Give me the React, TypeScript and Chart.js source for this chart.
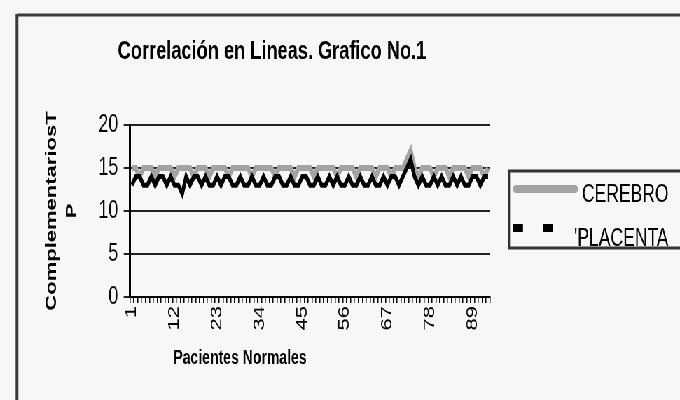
import React, { useEffect, useRef } from "react";
import { Chart, registerables } from "chart.js";

Chart.register(...registerables);

// ---- data ----
const chartTitle = "Correlación en Lineas. Grafico No.1";
const xTitle = "Pacientes Normales";
const yTitle = ["ComplementariosT", "P"];
const seriesNames = ["CEREBRO", "'PLACENTA"];
const categories = Array.from({ length: 93 }, (_, i) => String(i + 1));
const labelEvery = 11;
const yTicks = { min: 0, max: 20, step: 5 };

const cerebro = [
  15, 15, 14, 15, 15, 15, 14, 15, 15, 15,
  15, 14, 15, 15, 15, 15, 14, 15, 15, 15,
  14, 15, 15, 15, 15, 14, 15, 15, 15, 15,
  15, 14, 15, 15, 15, 15, 15, 14, 15, 15,
  15, 15, 14, 15, 15, 15, 15, 14, 15, 15,
  15, 15, 15, 14, 15, 15, 15, 15, 14, 15,
  15, 15, 15, 14, 15, 15, 15, 14, 15, 15,
  15, 16, 17, 15, 14, 15, 15, 15, 14, 15,
  15, 15, 14, 15, 15, 15, 15, 14, 15, 15,
  15, 14, 15,
];

const placenta = [
  13, 14, 14, 13, 13, 14, 13, 14, 14, 13,
  14, 13, 13, 12, 14, 13, 14, 14, 13, 14,
  13, 13, 14, 13, 14, 14, 13, 13, 14, 13,
  13, 14, 13, 13, 14, 13, 13, 14, 14, 13,
  13, 14, 13, 13, 14, 14, 13, 13, 14, 13,
  13, 14, 13, 14, 13, 13, 14, 13, 13, 14,
  13, 13, 14, 13, 13, 14, 13, 14, 14, 13,
  14, 15, 16, 14, 13, 14, 13, 13, 14, 13,
  14, 13, 13, 14, 13, 14, 13, 13, 14, 14,
  13, 14, 14,
];

// ---- layout (the reference is horizontally squeezed) ----
const W = 971;
const H = 400;
const SQ = 680 / W;
const rx = (x: number) => x / SQ;
const FAMILY = "'Liberation Sans', Arial, sans-serif";
const LEFT_PAD = 50;
const seriesColors = ["#a3a3a3", "#000000"];

const framePlugin = {
  id: "frame",
  beforeDraw(chart: any) {
    const ctx = chart.ctx as CanvasRenderingContext2D;
    ctx.save();
    ctx.fillStyle = "#f7f7f7";
    ctx.fillRect(0, 0, W, H);
    ctx.strokeStyle = "#3a3a3a";
    ctx.lineWidth = 3;
    ctx.beginPath();
    ctx.moveTo(rx(17), 15);
    ctx.lineTo(W, 15);
    ctx.stroke();
    ctx.lineWidth = 4;
    ctx.beginPath();
    ctx.moveTo(rx(17), 14);
    ctx.lineTo(rx(17), H);
    ctx.stroke();
    ctx.restore();
  },
  afterDraw(chart: any) {
    const ctx = chart.ctx as CanvasRenderingContext2D;
    ctx.save();
    ctx.fillStyle = "#000";
    ctx.textBaseline = "middle";
    ctx.textAlign = "center";
    ctx.font = `bold 26px ${FAMILY}`;
    ctx.fillText(chartTitle, rx(272), 52);
    ctx.font = `bold 20px ${FAMILY}`;
    ctx.fillText(xTitle, rx(240), 358);

    // legend
    const ds = chart.data.datasets;
    ctx.strokeStyle = "#333";
    ctx.lineWidth = 3;
    ctx.strokeRect(rx(509), 171, W + 20 - rx(509), 77);
    ctx.strokeStyle = ds[0].borderColor;
    ctx.lineWidth = 8;
    ctx.lineCap = "round";
    ctx.beginPath();
    ctx.moveTo(rx(516), 189);
    ctx.lineTo(rx(575), 189);
    ctx.stroke();
    ctx.fillStyle = ds[1].borderColor;
    ctx.fillRect(rx(513), 224, rx(10), 8);
    ctx.fillRect(rx(543), 224, rx(10), 8);
    ctx.fillStyle = "#000";
    ctx.textAlign = "left";
    ctx.font = `25px ${FAMILY}`;
    ctx.fillText(ds[0].label, rx(582), 195);
    ctx.fillText(ds[1].label, rx(574), 239);
    ctx.restore();
  },
};

export default function App() {
  const ref = useRef<HTMLCanvasElement | null>(null);

  useEffect(() => {
    if (!ref.current) return;
    const chart = new Chart(ref.current, {
      type: "line",
      data: {
        labels: categories,
        datasets: [
          {
            label: seriesNames[0],
            data: cerebro,
            borderColor: seriesColors[0],
            borderWidth: 6,
            pointRadius: 0,
            tension: 0,
            order: 2,
          },
          {
            label: seriesNames[1],
            data: placenta,
            borderColor: seriesColors[1],
            borderWidth: 5,
            pointRadius: 0,
            tension: 0,
            order: 1,
          },
        ],
      },
      options: {
        animation: false,
        responsive: false,
        events: [],
        layout: { padding: { left: LEFT_PAD, top: 125, right: W - rx(490), bottom: 0 } },
        plugins: {
          legend: { display: false },
          title: { display: false },
          tooltip: { enabled: false },
        },
        scales: {
          x: {
            offset: true,
            grid: {
              offset: true,
              drawOnChartArea: false,
              drawTicks: true,
              tickLength: 6,
              color: "#000",
              lineWidth: 1.5,
            },
            border: { display: true, color: "#000", width: 2 },
            ticks: {
              autoSkip: false,
              maxRotation: 90,
              minRotation: 90,
              padding: 3,
              color: "#000",
              font: { size: 22, family: FAMILY },
              callback: (_v: any, i: number) => (i % labelEvery === 0 ? categories[i] : ""),
            },
            afterFit: (s: any) => {
              s.height = H - 297;
            },
          },
          y: {
            min: yTicks.min,
            max: yTicks.max,
            ticks: {
              stepSize: yTicks.step,
              color: "#000",
              padding: 8,
              font: { size: 25, family: FAMILY },
            },
            grid: { color: "#222", lineWidth: 2, tickLength: 9, drawTicks: true },
            border: { display: true, color: "#000", width: 3 },
            title: {
              display: true,
              text: yTitle,
              color: "#000",
              font: { size: 22, weight: "bold", family: FAMILY, lineHeight: 1.3 },
              padding: { top: 10, bottom: 0 },
            },
            afterFit: (s: any) => {
              s.width = rx(130) - LEFT_PAD;
            },
          },
        },
      } as any,
      plugins: [framePlugin],
    });
    return () => chart.destroy();
  }, []);

  return (
    <div
      style={{
        position: "fixed",
        left: 0,
        top: 0,
        width: W,
        height: H,
        transform: `scaleX(${SQ})`,
        transformOrigin: "0 0",
        background: "#f7f7f7",
      }}
    >
      <canvas ref={ref} width={W} height={H} style={{ display: "block" }} />
    </div>
  );
}
